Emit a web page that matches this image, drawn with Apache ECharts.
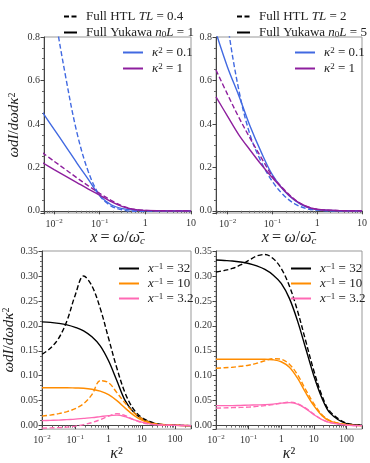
<!DOCTYPE html>
<html>
<head>
<meta charset="utf-8">
<script src="https://cdn.jsdelivr.net/npm/echarts@6/dist/echarts.min.js"></script>
<style>
	html, body { margin: 0; padding: 0; background: #fff; }
	#chart { width: 370px; height: 463px; }
</style>
</head>
<body>
<div id="chart"></div>
<script>
// x = omega / omega_c grid (top panels)
const xGrid = [0.0055, 0.01, 0.0178, 0.0316, 0.0562, 0.1, 0.178, 0.316, 0.562, 1, 3.16, 10];
// kappa^2 grid (bottom panels)
const kGrid = [0.01, 0.0178, 0.0316, 0.0562, 0.1, 0.178, 0.316, 0.562, 1, 1.78, 3.16, 5.62, 10, 17.8, 31.6, 100, 300];

// top left: TL = 0.4 / n0L = 1
const tlBlueYuk = [0.455, 0.375, 0.298, 0.22, 0.145, 0.07, 0.028, 0.01, 0.003, 0.001, 0, 0];
const tlBlueHtl = [1.35, 0.93, 0.62, 0.36, 0.18, 0.07, 0.022, 0.004, -0.002, -0.002, 0, 0];
const tlPurpYuk = [0.222, 0.19, 0.16, 0.13, 0.1, 0.072, 0.042, 0.019, 0.006, 0.002, 0, 0];
const tlPurpHtl = [0.268, 0.228, 0.19, 0.152, 0.115, 0.08, 0.048, 0.022, 0.007, 0.002, 0, 0];
// top right: TL = 2 / n0L = 5
const trBlueYuk = [0.82, 0.66, 0.53, 0.39, 0.27, 0.165, 0.095, 0.048, 0.018, 0.005, 0.0005, 0];
const trBlueHtl = [1.3, 0.86, 0.555, 0.35, 0.225, 0.135, 0.072, 0.032, 0.011, 0.003, 0, 0];
const trPurpYuk = [0.524, 0.435, 0.35, 0.28, 0.213, 0.152, 0.097, 0.05, 0.021, 0.007, 0.001, 0];
const trPurpHtl = [0.648, 0.535, 0.43, 0.335, 0.245, 0.16, 0.1, 0.052, 0.021, 0.007, 0.001, 0];

// bottom left
const blBlackYuk = [0.208, 0.207, 0.205, 0.202, 0.197, 0.19, 0.178, 0.16, 0.13, 0.09, 0.05, 0.027, 0.014, 0.007, 0.003, 0.001, 0];
const blBlackHtl = [0.143, 0.155, 0.175, 0.21, 0.262, 0.3, 0.28, 0.235, 0.175, 0.115, 0.065, 0.033, 0.016, 0.008, 0.003, 0.001, 0];
const blOrangeYuk = [0.076, 0.076, 0.076, 0.076, 0.0755, 0.075, 0.073, 0.069, 0.062, 0.05, 0.035, 0.021, 0.011, 0.005, 0.002, 0.0005, 0];
const blOrangeHtl = [0.019, 0.021, 0.024, 0.028, 0.034, 0.044, 0.062, 0.09, 0.086, 0.066, 0.045, 0.027, 0.014, 0.006, 0.003, 0.001, 0];
const blPinkYuk = [0.01, 0.0105, 0.011, 0.012, 0.013, 0.0145, 0.016, 0.018, 0.02, 0.021, 0.018, 0.012, 0.007, 0.003, 0.0015, 0.0005, 0];
const blPinkHtl = [-0.005, -0.0045, -0.004, -0.003, -0.001, 0.002, 0.006, 0.012, 0.019, 0.024, 0.02, 0.012, 0.006, 0.003, 0.0015, 0.0005, 0];
// bottom right
const brBlackYuk = [0.332, 0.331, 0.33, 0.328, 0.325, 0.32, 0.313, 0.302, 0.285, 0.255, 0.21, 0.155, 0.1, 0.055, 0.025, 0.004, 0.001];
const brBlackHtl = [0.308, 0.311, 0.315, 0.322, 0.331, 0.34, 0.343, 0.335, 0.315, 0.28, 0.23, 0.17, 0.11, 0.06, 0.028, 0.005, 0.001];
const brOrangeYuk = [0.133, 0.133, 0.133, 0.133, 0.133, 0.133, 0.133, 0.132, 0.128, 0.117, 0.095, 0.066, 0.04, 0.02, 0.009, 0.002, 0];
const brOrangeHtl = [0.115, 0.116, 0.117, 0.119, 0.121, 0.125, 0.13, 0.134, 0.133, 0.123, 0.102, 0.072, 0.044, 0.022, 0.01, 0.002, 0];
const brPinkYuk = [0.04, 0.04, 0.04, 0.0405, 0.041, 0.0415, 0.042, 0.043, 0.045, 0.046, 0.043, 0.034, 0.022, 0.012, 0.006, 0.001, 0];
const brPinkHtl = [0.035, 0.0355, 0.036, 0.0365, 0.037, 0.0385, 0.04, 0.042, 0.045, 0.047, 0.044, 0.035, 0.023, 0.012, 0.006, 0.001, 0];

const SERIF = "'Liberation Serif', 'DejaVu Serif', serif";
const BLUE = '#4169e1', PURPLE = '#8e1f9e', ORANGE = '#ff8c00', PINK = '#ff69b4';
const DASH = [5, 2.5];

const zip = (xs, ys) => xs.map((x, i) => [x, ys[i]]);

const richText = {
	i: { fontFamily: SERIF, fontStyle: 'italic', fontSize: 13, color: '#222' },
	r: { fontFamily: SERIF, fontSize: 13, color: '#222' },
	s: { fontFamily: SERIF, fontSize: 9, color: '#222', verticalAlign: 'top' },
	b: { fontFamily: SERIF, fontSize: 9, color: '#222', verticalAlign: 'bottom' },
};

// tick labels like matplotlib: 10^-2, 10^-1, 1, 10, 100
function logLabel(v) {
	const p = Math.log10(v);
	const n = Math.round(p);
	if (Math.abs(p - n) > 1e-6) return '';
	if (n < 0) return '{t|10}{e|−' + Math.abs(n) + '}';
	return '{t|' + Math.pow(10, n) + '}';
}
const tickRich = {
	t: { fontFamily: SERIF, fontSize: 10, color: '#333' },
	e: { fontFamily: SERIF, fontSize: 7, color: '#333', verticalAlign: 'top', padding: [0, 0, 5, 0] },
};

function xAxisFor(grid, min, max, isTop) {
	return {
		type: 'log', logBase: 10, gridIndex: grid, min: min, max: max,
		axisLine: { lineStyle: { color: '#444', width: 1 } },
		axisTick: { length: 3.5, lineStyle: { color: '#444' } },
		minorTick: { show: true, splitNumber: 9, length: 2, lineStyle: { color: '#666' } },
		splitLine: { show: false },
		axisLabel: { formatter: logLabel, rich: tickRich, margin: 5, showMinLabel: true, showMaxLabel: true },
		name: isTop ? '{i|x} {r|=} {i|ω}{r|/}{i|ω̄}{c|c}' : '{i|κ}{r|²}',
		nameLocation: 'middle',
		nameGap: isTop ? 15 : 13,
		nameTextStyle: {
			rich: {
				i: { fontFamily: SERIF, fontStyle: 'italic', fontSize: 16, color: '#222', lineHeight: 18 },
				r: { fontFamily: SERIF, fontSize: 16, color: '#222', lineHeight: 18 },
				c: { fontFamily: SERIF, fontStyle: 'italic', fontSize: 11, color: '#222', verticalAlign: 'bottom', lineHeight: 11 },
			},
		},
	};
}

// no interval here: nice ticks from splitNumber so they land on 0, 0.2, ... not on min
function yAxisFor(grid, min, max, step, parts, minorSplit, digits, withName) {
	return {
		type: 'value', gridIndex: grid, min: min, max: max, splitNumber: parts,
		axisLine: { show: true, lineStyle: { color: '#444', width: 1 } },
		axisTick: { show: true, length: 3.5, lineStyle: { color: '#444' } },
		minorTick: { show: true, splitNumber: minorSplit, length: 2, lineStyle: { color: '#666' } },
		splitLine: { show: false },
		axisLabel: {
			fontFamily: SERIF, fontSize: 10, color: '#333', margin: 4,
			formatter: (v) => (Math.abs(v / step - Math.round(v / step)) < 1e-6 ? v.toFixed(digits) : ''),
		},
		name: withName ? '{i|ωdI}{r|/}{i|dωdκ}{s|2}' : '',
		nameLocation: 'middle', nameRotate: 90, nameGap: 22,
		nameTextStyle: {
			rich: {
				i: { fontFamily: SERIF, fontStyle: 'italic', fontSize: 15, color: '#222' },
				r: { fontFamily: SERIF, fontSize: 15, color: '#222' },
				s: { fontFamily: SERIF, fontSize: 10, color: '#222', verticalAlign: 'top' },
			},
		},
	};
}

function line(name, xi, data, color, dashed) {
	return {
		name: name, type: 'line', xAxisIndex: xi, yAxisIndex: xi, data: data,
		smooth: 0.35, symbol: 'none', clip: true,
		lineStyle: { color: color, width: 1.4, type: dashed ? DASH : 'solid' },
		itemStyle: { color: color },
	};
}

const legendNames = {
	htlL: '{r|Full HTL }{i|TL}{r| = 0.4}',
	yukL: '{r|Full Yukawa }{i|n}{b|0}{i|L}{r| = 1}',
	htlR: '{r|Full HTL }{i|TL}{r| = 2}',
	yukR: '{r|Full Yukawa }{i|n}{b|0}{i|L}{r| = 5}',
	k01L: '{i|κ}{s|2}{r| = 0.1}', k1L: '{i|κ}{s|2}{r| = 1}',
	k01R: '{i|κ}{s|2}{r| = 0.1}', k1R: '{i|κ}{s|2}{r| = 1}',
	x32L: '{i|x}{s|−1}{r| = 32}', x10L: '{i|x}{s|−1}{r| = 10}', x3L: '{i|x}{s|−1}{r| = 3.2}',
	x32R: '{i|x}{s|−1}{r| = 32}', x10R: '{i|x}{s|−1}{r| = 10}', x3R: '{i|x}{s|−1}{r| = 3.2}',
};

function legendAt(names, left, top, w, gap) {
	return {
		data: names, left: left, top: top, orient: 'vertical',
		itemWidth: w, itemHeight: 8, itemGap: gap,
		itemStyle: { opacity: 0 },
		formatter: (n) => legendNames[n],
		textStyle: { rich: richText, padding: [0, 0, 0, 4] },
		selectedMode: false,
	};
}

const chart = echarts.init(document.getElementById('chart'), null, { renderer: 'canvas' });
chart.setOption({
	animation: false,
	backgroundColor: '#fff',
	grid: [
		{ left: 44, top: 37, width: 147, height: 176, show: true, borderColor: '#999', borderWidth: 1 },
		{ left: 216, top: 37, width: 146, height: 176, show: true, borderColor: '#999', borderWidth: 1 },
		{ left: 42, top: 251, width: 149, height: 179, show: true, borderColor: '#999', borderWidth: 1 },
		{ left: 216, top: 251, width: 146, height: 179, show: true, borderColor: '#999', borderWidth: 1 },
	],
	xAxis: [
		xAxisFor(0, 0.006, 10, true),
		xAxisFor(1, 0.0055, 10, true),
		xAxisFor(2, 0.01, 300, false),
		xAxisFor(3, 0.01, 300, false),
	],
	yAxis: [
		yAxisFor(0, -0.01, 0.8, 0.2, 4, 4, 1, true),
		yAxisFor(1, -0.01, 0.8, 0.2, 4, 4, 1, false),
		yAxisFor(2, -0.007, 0.35, 0.05, 7, 5, 2, true),
		yAxisFor(3, -0.007, 0.35, 0.05, 7, 5, 2, false),
	],
	legend: [
		legendAt(['htlL', 'yukL'], 58, 5, 13, 3),
		legendAt(['htlR', 'yukR'], 231, 5, 13, 3),
		legendAt(['k01L', 'k1L'], 117, 41, 20, 3),
		legendAt(['k01R', 'k1R'], 289, 41, 20, 3),
		legendAt(['x32L', 'x10L', 'x3L'], 113, 257, 20, 2),
		legendAt(['x32R', 'x10R', 'x3R'], 285, 257, 20, 2),
	],
	series: [
		line('htlL', 0, [], '#000', true),
		line('yukL', 0, [], '#000', false),
		line('k01L', 0, zip(xGrid, tlBlueYuk), BLUE, false),
		line('k01L-htl', 0, zip(xGrid, tlBlueHtl), BLUE, true),
		line('k1L', 0, zip(xGrid, tlPurpYuk), PURPLE, false),
		line('k1L-htl', 0, zip(xGrid, tlPurpHtl), PURPLE, true),

		line('htlR', 1, [], '#000', true),
		line('yukR', 1, [], '#000', false),
		line('k01R', 1, zip(xGrid, trBlueYuk), BLUE, false),
		line('k01R-htl', 1, zip(xGrid, trBlueHtl), BLUE, true),
		line('k1R', 1, zip(xGrid, trPurpYuk), PURPLE, false),
		line('k1R-htl', 1, zip(xGrid, trPurpHtl), PURPLE, true),

		line('x32L', 2, zip(kGrid, blBlackYuk), '#000', false),
		line('x32L-htl', 2, zip(kGrid, blBlackHtl), '#000', true),
		line('x10L', 2, zip(kGrid, blOrangeYuk), ORANGE, false),
		line('x10L-htl', 2, zip(kGrid, blOrangeHtl), ORANGE, true),
		line('x3L', 2, zip(kGrid, blPinkYuk), PINK, false),
		line('x3L-htl', 2, zip(kGrid, blPinkHtl), PINK, true),

		line('x32R', 3, zip(kGrid, brBlackYuk), '#000', false),
		line('x32R-htl', 3, zip(kGrid, brBlackHtl), '#000', true),
		line('x10R', 3, zip(kGrid, brOrangeYuk), ORANGE, false),
		line('x10R-htl', 3, zip(kGrid, brOrangeHtl), ORANGE, true),
		line('x3R', 3, zip(kGrid, brPinkYuk), PINK, false),
		line('x3R-htl', 3, zip(kGrid, brPinkHtl), PINK, true),
	],
});
</script>
</body>
</html>
